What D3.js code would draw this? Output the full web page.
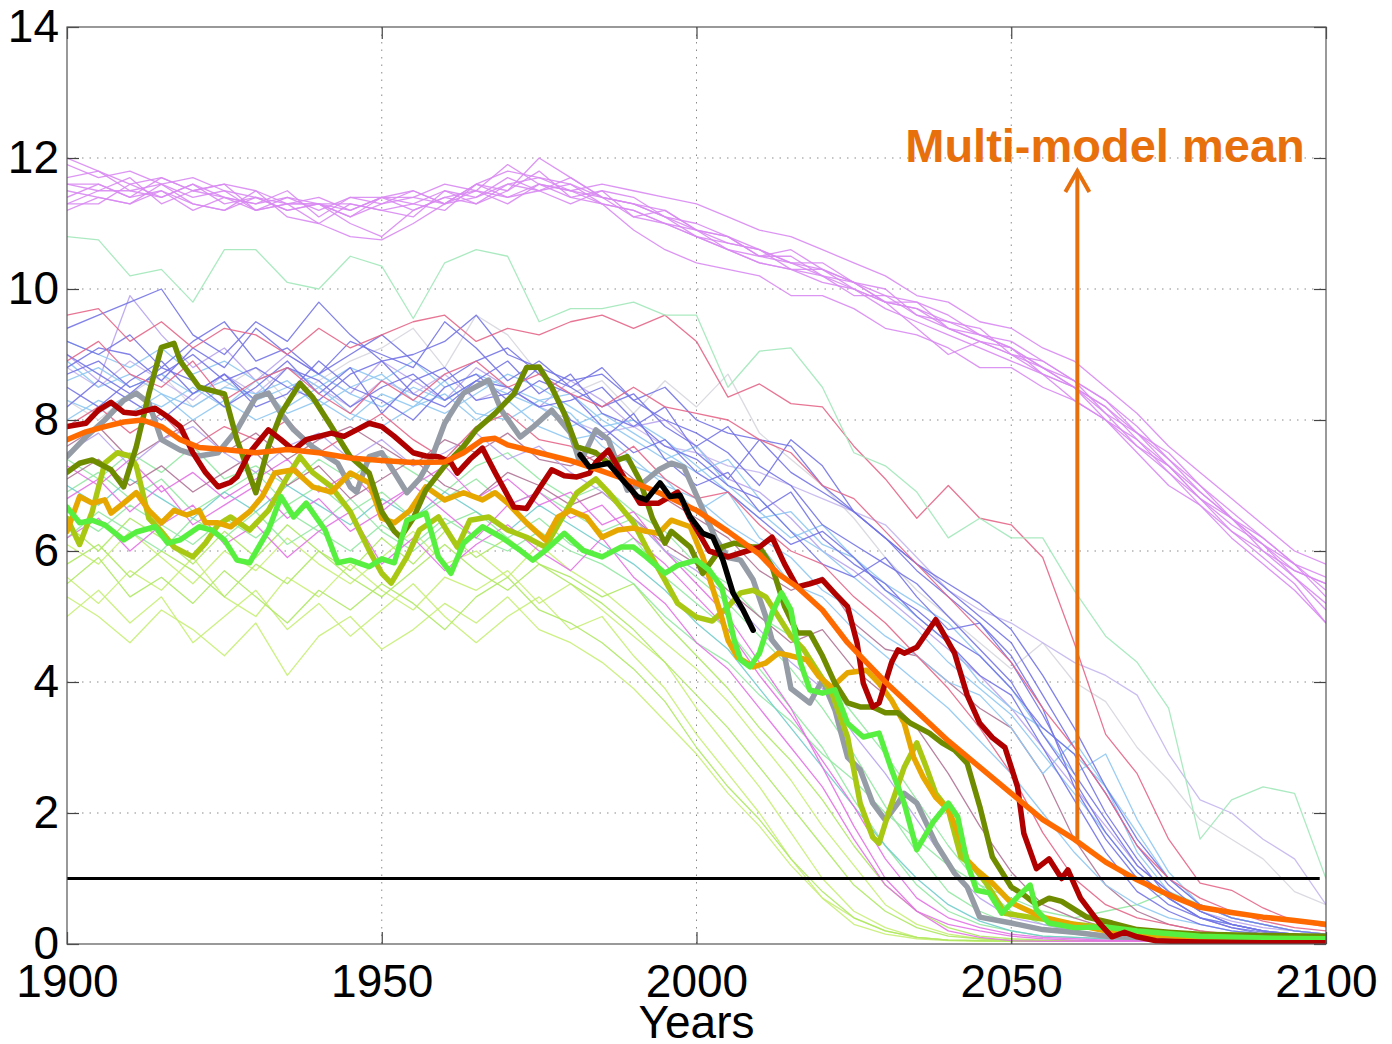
<!DOCTYPE html>
<html><head><meta charset="utf-8">
<script src="https://cdn.jsdelivr.net/npm/d3@7"></script>
<style>body{margin:0;background:#fff;} svg{display:block;}</style>
</head><body>
<script>
// ---------- DATA ----------
const xTicks = [1900, 1950, 2000, 2050, 2100];
const yTicks = [0, 2, 4, 6, 8, 10, 12, 14];
const xLabel = "Years";
const annotationText = "Multi-model mean";

const thinYears = [1900,1905,1910,1915,1920,1925,1930,1935,1940,1945,1950,1955,1960,1965,1970,1975,1980,1985,1990,1995,2000,2005,2010,2015,2020,2025,2030,2035,2040,2045,2050,2055,2060,2065,2070,2075,2080,2085,2090,2095,2100];

// purple ensemble (high group)
const purple1 = [11.9,11.7,11.8,11.6,11.7,11.5,11.4,11.3,11.4,11.2,11.4,11.5,11.3,11.6,11.8,11.7,11.5,11.6,11.5,11.4,11.3,11.1,10.9,10.8,10.6,10.4,10.2,9.9,9.8,9.5,9.4,9.1,8.9,8.5,8.1,7.6,7.2,6.8,6.4,6.0,5.8];
const purple2 = [11.2,11.4,11.3,11.6,11.3,11.2,11.5,11.1,11.0,11.3,11.2,11.1,11.5,11.4,11.7,11.5,11.6,11.3,11.2,11.0,10.8,10.6,10.4,10.3,10.2,10.0,9.8,9.4,9.0,9.2,9.0,8.7,8.5,8.0,7.7,7.2,6.8,6.3,6.0,5.6,5.2];
const purple3 = [11.6,11.5,11.7,11.3,11.5,11.6,11.2,11.4,11.3,11.1,11.4,11.3,11.2,11.6,11.5,12.0,11.7,11.4,11.3,11.1,10.9,10.8,10.5,10.6,10.3,10.1,9.8,9.8,9.4,9.2,9.1,8.8,8.5,8.1,7.6,7.3,6.8,6.5,6.0,5.7,5.5];
const purple4 = [11.4,11.6,11.4,11.5,11.2,11.4,11.3,11.5,11.1,11.4,11.3,11.5,11.3,11.4,11.6,11.5,11.3,11.5,11.1,11.2,10.9,10.7,10.6,10.4,10.4,10.1,10.0,9.6,9.5,9.4,9.0,8.9,8.6,8.3,7.8,7.5,7.0,6.6,6.2,5.8,5.3];
const purple5 = [11.3,11.3,11.6,11.4,11.6,11.3,11.4,11.2,11.3,11.0,10.8,11.2,11.4,11.3,11.5,11.8,11.4,11.3,10.9,10.6,10.4,10.3,10.2,9.9,9.9,9.7,9.4,9.3,9.1,8.8,8.8,8.5,8.3,8.0,7.5,7.0,6.7,6.2,5.8,5.4,4.9];
const purple6 = [11.7,11.8,11.5,11.6,11.4,11.5,11.2,11.3,11.0,10.8,10.75,11.0,11.3,11.5,11.4,11.6,11.5,11.4,11.3,11.2,10.9,10.8,10.6,10.4,10.3,10.1,9.9,9.8,9.6,9.3,9.2,8.9,8.6,8.3,7.9,7.4,7.0,6.5,6.1,5.7,5.5];
const purple7 = [11.5,11.4,11.3,11.5,11.3,11.2,11.4,11.2,11.3,11.3,11.2,11.3,11.5,11.3,11.6,11.7,11.6,11.4,11.1,11.0,10.9,10.6,10.5,10.4,10.2,9.9,9.9,9.6,9.4,9.2,9.0,8.8,8.6,8.1,7.8,7.3,6.8,6.4,6.1,5.8,5.4];
const purple8 = [12.0,11.8,11.6,11.7,11.5,11.4,11.3,11.4,11.2,11.4,11.4,11.2,11.4,11.5,11.3,11.6,11.4,11.5,11.4,11.1,11.0,10.8,10.5,10.5,10.2,10.1,9.8,9.7,9.5,9.3,9.1,8.7,8.5,8.2,7.8,7.4,6.9,6.5,6.1,5.6,5.1];
const purple9 = [11.3,11.5,11.5,11.4,11.6,11.4,11.2,11.3,11.3,11.2,11.4,11.4,11.3,11.6,11.4,11.5,11.7,11.4,11.3,11.1,10.8,10.7,10.6,10.3,10.3,10.0,9.8,9.7,9.4,9.3,9.1,8.8,8.5,8.2,7.7,7.3,6.9,6.5,6.2,5.8,5.6];
const purple10 = [11.6,11.6,11.4,11.7,11.5,11.6,11.5,11.3,11.3,11.1,11.3,11.4,11.6,11.5,11.9,11.6,11.5,11.3,11.2,11.0,10.8,10.6,10.4,10.3,10.1,10.0,9.7,9.5,9.3,9.1,8.9,8.7,8.3,8.0,7.6,7.2,6.7,6.3,5.9,5.5,4.9];

const mintHigh = [10.8,10.75,10.2,10.3,9.8,10.6,10.6,10.1,10.0,10.5,10.35,9.55,10.4,10.6,10.5,9.5,9.7,9.7,9.8,9.6,9.6,8.5,9.05,9.1,8.5,7.5,7.3,6.9,6.2,6.5,6.2,6.2,5.4,4.7,4.3,3.6,1.6,2.2,2.4,2.3,1.0];

const blue1 = [9.4,9.6,9.8,10.0,9.3,9.0,9.5,9.2,9.8,9.3,8.9,9.0,9.2,9.6,9.0,8.8,8.6,8.7,8.3,8.5,8.0,7.8,7.7,7.2,6.9,6.6,6.2,5.8,5.4,5.0,4.6,3.8,3.0,2.3,1.5,0.9,0.5,0.3,0.2,0.15,0.1];
const blue2 = [8.8,9.1,9.0,8.6,9.1,8.8,9.4,9.0,8.7,9.2,9.0,8.8,9.5,9.1,8.6,8.9,8.5,8.2,8.4,7.9,7.6,7.9,7.3,7.0,6.4,6.1,5.8,5.5,5.0,4.5,4.0,3.2,2.5,1.7,1.1,0.7,0.4,0.25,0.15,0.1,0.08];
const blue3 = [8.5,8.2,8.6,8.9,8.4,8.7,8.3,8.8,8.6,8.2,8.5,8.7,8.3,8.6,8.9,8.4,8.7,8.1,7.9,8.2,7.5,7.1,7.7,7.6,7.0,6.6,6.2,5.7,5.3,4.9,4.4,3.6,2.4,1.6,1.0,0.6,0.4,0.25,0.18,0.12,0.1];
const blue4 = [9.0,8.7,8.4,8.8,8.6,8.2,8.5,8.9,8.4,8.8,8.1,8.6,8.8,8.3,8.4,8.8,8.0,7.7,8.1,7.4,7.0,7.2,6.6,6.9,6.2,5.8,5.5,5.0,4.6,4.1,3.8,3.0,2.2,1.4,0.8,0.5,0.3,0.2,0.15,0.1,0.08];
const blue5 = [8.2,8.6,8.3,8.0,8.4,8.7,8.2,8.4,8.9,8.5,8.3,8.0,8.5,8.7,8.3,8.6,8.4,7.9,7.5,7.7,7.2,6.9,6.5,6.1,6.3,5.9,5.4,5.1,4.7,4.4,3.9,3.3,2.9,2.0,1.3,0.7,0.4,0.3,0.2,0.12,0.1];
const blue6 = [8.7,8.9,8.5,8.7,9.0,8.6,8.8,8.5,8.3,8.7,8.9,8.4,8.2,8.6,8.5,8.2,8.3,8.5,8.0,7.6,7.4,7.0,6.8,6.3,5.8,5.6,5.9,5.3,4.8,4.9,4.3,3.5,2.6,1.9,1.2,0.8,0.5,0.3,0.2,0.15,0.1];
const blue7 = [9.2,9.0,9.3,8.8,9.2,9.5,8.9,9.1,8.7,9.0,9.3,8.9,8.6,8.9,9.1,8.7,8.5,8.8,8.3,8.0,7.8,7.5,7.0,7.7,7.3,6.6,6.2,5.8,5.5,5.2,4.8,4.1,3.3,2.4,1.6,1.0,0.6,0.4,0.3,0.2,0.15];

const lightBlue1 = [8.6,8.8,8.5,8.7,8.4,8.6,8.3,8.5,8.7,8.4,8.2,8.5,8.3,8.6,8.4,8.2,7.9,8.1,7.8,7.5,7.2,7.4,6.8,6.3,6.0,5.6,5.2,4.8,4.3,3.9,3.5,2.9,2.3,1.7,1.1,0.7,0.4,0.3,0.2,0.15,0.1];
const lightBlue2 = [8.3,8.1,8.4,8.2,8.5,8.2,8.6,8.1,8.3,8.0,8.4,8.2,8.6,8.1,8.0,8.3,8.1,7.6,7.3,7.1,6.6,6.9,6.2,5.9,5.4,5.1,4.7,4.4,4.0,3.8,3.3,2.6,3.1,2.4,1.4,0.8,0.5,0.3,0.2,0.15,0.1];
const lightBlue3 = [8.9,8.5,8.7,8.4,8.2,8.5,8.4,8.6,8.2,8.5,8.7,8.3,8.1,8.4,8.7,8.5,8.2,7.9,8.0,7.7,7.3,6.9,6.5,6.6,6.1,5.9,5.5,5.2,4.9,4.4,3.9,3.2,2.6,2.9,1.9,1.1,0.6,0.4,0.3,0.2,0.15];
const lightBlue4 = [8.0,8.3,8.1,8.4,8.0,8.3,8.0,8.2,8.5,8.1,7.9,8.2,8.4,8.0,8.3,7.9,7.7,7.8,7.4,7.0,6.8,6.4,6.1,5.5,5.3,4.8,4.4,4.0,3.6,3.1,2.6,2.0,1.4,0.9,0.6,0.4,0.3,0.2,0.15,0.1,0.08];
const lightBlue5 = [9.2,9.0,8.8,9.1,8.7,8.9,8.6,8.8,8.5,8.8,8.6,8.9,8.5,8.7,8.5,8.3,8.4,8.0,7.7,7.4,7.6,7.0,6.6,6.2,6.4,5.9,5.4,5.0,4.6,4.0,3.6,3.3,2.9,2.4,1.7,1.0,0.6,0.4,0.3,0.2,0.15];

const lavender1 = [9.0,8.6,9.9,9.3,8.8,9.1,8.6,9.0,8.7,8.4,8.9,8.6,8.3,8.8,8.5,8.2,8.6,8.3,7.9,8.0,7.6,7.1,6.9,6.5,6.0,5.7,5.3,4.9,4.5,4.1,3.6,3.0,2.4,1.8,1.2,0.8,0.5,0.35,0.25,0.2,0.15];
const lavender2 = [7.5,7.8,7.3,7.7,7.9,7.5,7.2,7.6,7.8,7.4,7.7,7.3,7.5,7.8,7.4,7.6,7.2,6.9,6.5,6.0,5.7,5.3,4.8,4.3,3.9,3.2,2.6,1.9,1.2,0.7,0.4,0.3,0.2,0.15,0.1,0.08,0.06,0.05,0.05,0.05,0.05];
const lavender3 = [8.8,8.5,8.9,8.6,8.3,8.7,8.4,8.8,8.5,8.2,8.6,8.4,8.7,8.3,8.5,8.2,8.0,7.8,7.9,7.6,7.5,7.3,7.2,7.0,6.8,6.6,6.4,5.9,5.4,5.1,4.9,4.6,4.3,4.1,3.8,2.9,2.2,2.0,1.6,1.3,0.6];
const paleGray1 = [8.3,8.0,8.4,8.7,8.2,8.5,8.8,8.3,8.6,8.9,9.1,9.4,8.8,9.6,9.3,8.7,8.4,8.6,8.1,8.6,8.2,8.7,7.8,7.4,7.0,6.5,5.9,5.4,5.0,4.6,4.2,4.6,4.0,3.7,3.0,2.5,1.9,1.6,1.3,0.8,0.6];

const pink1 = [9.6,9.7,9.2,9.5,9.1,9.4,9.3,9.0,9.4,9.1,9.3,9.5,9.6,9.2,9.4,9.3,9.5,9.6,9.4,9.6,9.2,8.35,8.55,8.25,8.2,7.6,7.1,6.5,7.0,6.5,6.4,5.9,4.6,3.2,2.6,1.6,0.93,0.82,0.55,0.35,0.26];
const pink2 = [8.9,9.2,8.7,8.5,8.9,8.3,8.6,8.8,8.4,8.1,8.6,8.3,8.7,8.9,8.5,8.7,8.4,8.2,8.5,8.2,8.1,8.0,7.7,7.5,7.0,6.8,6.3,5.8,5.3,4.8,4.3,3.6,3.0,2.3,1.5,1.0,0.7,0.5,0.35,0.25,0.2];
const pink3 = [7.9,8.2,7.8,8.1,7.6,7.9,7.7,8.0,7.5,7.8,8.1,7.7,7.4,7.9,8.1,7.7,7.6,7.3,7.6,7.1,6.8,6.9,6.4,6.0,5.8,5.3,4.9,4.4,3.9,3.3,2.6,1.7,1.0,0.6,0.4,0.3,0.2,0.15,0.1,0.08,0.06];

const mauve1 = [7.6,7.9,7.4,7.7,8.0,7.5,7.8,7.4,7.7,7.9,7.6,7.3,7.7,7.5,7.8,7.4,7.3,7.5,7.1,6.8,6.5,6.2,5.7,5.4,5.6,4.9,4.5,4.4,4.0,3.6,3.3,2.6,1.6,0.9,0.5,0.3,0.2,0.12,0.08,0.06,0.05];
const mauve2 = [7.1,7.4,7.0,7.3,6.9,7.2,7.5,7.0,7.3,6.8,7.1,7.4,7.0,6.8,7.2,7.0,6.7,6.9,6.5,6.1,5.8,5.4,5.0,4.6,4.8,4.2,3.8,3.3,2.6,1.8,1.1,0.6,0.4,0.25,0.15,0.1,0.08,0.06,0.05,0.05,0.05];

const magenta1 = [6.8,7.1,6.6,7.0,6.4,6.7,7.0,6.5,6.8,6.3,6.6,7.0,6.6,6.2,6.7,6.9,6.5,6.7,6.2,5.8,5.3,4.8,4.1,3.5,2.8,2.1,1.3,0.7,0.4,0.25,0.15,0.1,0.08,0.06,0.05,0.05,0.04,0.04,0.04,0.04,0.04];
const magenta2 = [6.2,6.5,6.0,6.4,6.7,6.1,6.4,5.9,6.3,6.6,5.8,6.2,5.7,6.1,6.4,6.0,5.7,6.2,5.6,5.2,4.6,4.2,3.6,3.0,2.4,1.6,0.9,0.5,0.3,0.2,0.12,0.08,0.06,0.05,0.05,0.04,0.04,0.04,0.04,0.04,0.04];
const magenta3 = [7.3,7.0,7.4,6.9,7.2,6.8,7.1,7.4,6.9,7.2,6.7,7.0,7.3,6.8,7.1,6.7,6.9,6.4,6.6,6.0,5.5,5.0,4.3,3.6,2.7,1.8,1.0,0.5,0.2,0.1,0.05,0.04,0.04,0.04,0.04,0.04,0.04,0.04,0.04,0.04,0.04];

const green2 = [6.9,7.2,6.8,7.1,6.6,6.9,7.2,6.7,7.0,6.6,6.9,6.5,6.8,7.1,6.7,6.9,6.6,6.3,6.5,6.0,5.6,5.2,4.7,4.2,3.6,2.9,2.1,1.4,0.8,0.5,0.3,0.2,0.15,0.1,0.08,0.06,0.05,0.05,0.05,0.05,0.05];
const green3 = [6.2,6.6,6.3,6.0,6.5,6.2,6.6,6.1,6.4,6.8,6.3,6.0,6.4,6.6,6.2,6.5,6.1,5.9,6.2,5.6,5.2,4.8,4.2,3.6,3.0,2.2,1.5,0.9,0.5,0.3,0.2,0.12,0.1,0.08,0.06,0.05,0.05,0.05,0.05,0.05,0.05];
const green4 = [7.4,7.1,7.5,7.2,7.6,7.1,7.3,7.0,7.4,7.1,7.5,7.2,6.9,7.3,7.5,7.1,6.8,7.0,6.6,6.3,5.8,5.5,5.0,4.7,4.1,3.5,2.9,2.2,1.5,0.9,0.5,0.3,0.2,0.15,0.1,0.08,0.06,0.05,0.05,0.05,0.05];
const green5 = [6.6,6.3,6.7,6.4,6.1,6.5,6.2,6.6,6.3,6.0,6.4,6.1,6.5,6.2,6.0,6.3,6.0,5.8,5.5,5.0,4.6,4.3,3.8,3.4,2.9,2.5,2.0,1.6,1.2,0.9,0.7,0.5,0.4,0.5,0.6,0.8,0.6,0.4,0.3,0.2,0.15];

const yellowGreen1 = [5.0,5.4,4.9,5.3,4.6,5.0,5.4,4.8,5.2,4.7,5.1,5.5,5.0,4.6,5.0,5.3,4.8,5.0,4.4,3.9,3.2,2.6,2.0,1.3,0.7,0.3,0.15,0.08,0.05,0.04,0.04,0.04,0.04,0.04,0.04,0.04,0.04,0.04,0.04,0.04,0.04];
const yellowGreen2 = [5.6,5.2,5.7,5.4,5.9,5.3,5.0,5.6,5.3,5.8,5.4,5.1,5.6,5.4,5.7,5.2,5.5,5.1,4.7,4.3,3.6,3.0,2.4,1.7,1.0,0.5,0.25,0.1,0.06,0.05,0.04,0.04,0.04,0.04,0.04,0.04,0.04,0.04,0.04,0.04,0.04];
const yellowGreen3 = [6.1,5.8,6.3,5.9,5.5,6.0,5.7,6.2,5.8,5.5,5.9,6.3,5.8,6.0,5.6,6.1,5.7,5.4,5.0,4.6,4.2,3.7,3.1,2.5,1.8,1.2,0.6,0.3,0.15,0.08,0.05,0.05,0.04,0.04,0.04,0.04,0.04,0.04,0.04,0.04,0.04];
const yellowGreen4 = [5.3,5.0,4.6,5.1,4.8,4.4,4.9,4.1,4.7,5.0,4.5,4.8,5.2,4.9,5.3,4.8,4.6,4.3,3.9,3.4,2.9,2.3,1.8,1.2,0.7,0.4,0.2,0.1,0.06,0.05,0.04,0.04,0.04,0.04,0.04,0.04,0.04,0.04,0.04,0.04,0.04];
const lime1 = [5.8,6.1,5.6,6.0,5.7,5.3,5.8,5.5,6.0,5.6,5.3,5.7,6.1,5.7,5.4,5.8,5.5,5.2,4.8,4.3,3.8,3.3,2.7,2.1,1.5,0.9,0.5,0.25,0.12,0.08,0.06,0.05,0.05,0.05,0.05,0.05,0.05,0.05,0.05,0.05,0.05];
const lime2 = [6.4,6.0,6.5,6.2,5.8,6.3,5.9,6.4,6.0,5.7,6.2,5.8,6.3,5.9,6.2,5.8,5.6,5.3,5.5,4.9,4.4,3.9,3.3,2.8,2.2,1.5,0.9,0.5,0.25,0.12,0.08,0.06,0.05,0.05,0.05,0.05,0.05,0.05,0.05,0.05,0.05];
const lime3 = [5.5,5.9,5.3,5.6,5.2,5.7,5.3,4.9,5.4,5.1,5.5,5.2,4.8,5.3,5.6,5.1,4.9,4.6,4.2,3.7,3.0,2.4,1.9,1.3,0.8,0.4,0.2,0.1,0.06,0.05,0.04,0.04,0.04,0.04,0.04,0.04,0.04,0.04,0.04,0.04,0.04];
const teal1 = [7.0,6.7,7.1,6.8,6.5,6.9,6.6,7.0,6.7,6.4,6.8,6.5,6.9,6.6,6.3,6.7,6.4,6.1,5.8,5.4,4.9,4.5,3.9,3.3,2.7,2.1,1.5,1.0,0.6,0.35,0.2,0.12,0.1,0.08,0.06,0.05,0.05,0.05,0.05,0.05,0.05];

// highlighted models: [year, value]
const modelGray = [[1900,7.44],[1903,7.74],[1906,8.0],[1909,8.3],[1911,8.41],[1913,8.26],[1915,7.7],[1918,7.54],[1921,7.45],[1924,7.5],[1927,7.85],[1930,8.35],[1932,8.41],[1934,8.1],[1936,7.85],[1939,7.59],[1943,7.34],[1945,6.98],[1946,6.9],[1948,7.44],[1950,7.5],[1952,7.2],[1954,6.89],[1956,7.1],[1958,7.44],[1960,7.95],[1963,8.41],[1967,8.61],[1969,8.15],[1972,7.74],[1974,7.89],[1977,8.15],[1980,7.8],[1981.5,7.34],[1984,7.85],[1986,7.7],[1989,6.93],[1991,7.0],[1994,7.24],[1996,7.34],[1998,7.28],[2000,6.85],[2003,6.2],[2005,5.9],[2007,5.86],[2009,5.56],[2011,5.0],[2012,4.64],[2014,4.4],[2015,3.9],[2018,3.68],[2020,4.03],[2022,3.57],[2024,2.85],[2026,2.66],[2028,2.15],[2030,1.89],[2032,2.15],[2033,2.3],[2035,2.15],[2038,1.54],[2041,1.08],[2043,0.87],[2045,0.41],[2050,0.32],[2055,0.22],[2060,0.18],[2065,0.12],[2070,0.1],[2080,0.08],[2090,0.07],[2100,0.07]];
const modelYellowGreen = [[1900,6.5],[1902,6.1],[1904,6.6],[1906,7.34],[1908,7.5],[1910,7.45],[1911,7.3],[1913,6.5],[1915,6.3],[1917,6.06],[1920,5.91],[1922,6.12],[1924,6.4],[1926,6.52],[1929,6.32],[1932,6.62],[1935,7.13],[1937,7.44],[1939,7.2],[1942,6.98],[1945,6.6],[1948,6.01],[1950,5.66],[1951.5,5.51],[1954,5.91],[1956,6.32],[1959,6.52],[1962,6.06],[1964,6.47],[1967,6.52],[1970,6.32],[1973,6.21],[1976,6.06],[1978,6.4],[1981,6.89],[1984,7.1],[1986,6.9],[1990,6.43],[1992,6.06],[1995,5.55],[1997,5.2],[2000,4.99],[2002.5,4.93],[2005,5.15],[2007,5.36],[2009,5.4],[2011,5.3],[2013,5.0],[2015,4.7],[2017,4.5],[2019,4.2],[2021.5,3.83],[2024,3.16],[2026,2.15],[2028,1.63],[2029,1.54],[2030.5,2.0],[2033,2.7],[2035,3.07],[2036.5,2.7],[2038,2.3],[2040,2.05],[2042,1.33],[2044,1.18],[2046,0.93],[2049,0.47],[2055,0.38],[2060,0.3],[2070,0.2],[2080,0.12],[2100,0.1]];
const modelGold = [[1900,6.3],[1902,6.83],[1904,6.73],[1906,6.78],[1907,6.58],[1909,6.73],[1911,6.89],[1913,6.62],[1915,6.43],[1917,6.62],[1919,6.55],[1921,6.62],[1922,6.43],[1924,6.43],[1926,6.37],[1929,6.6],[1931,6.83],[1933,7.19],[1936,7.24],[1939,6.98],[1942,6.9],[1945,7.19],[1948,7.04],[1950,6.5],[1952,6.43],[1954.5,6.62],[1957,6.98],[1960,6.78],[1963,6.89],[1966,6.78],[1968,6.89],[1970,6.73],[1973,6.43],[1976,6.17],[1978,6.52],[1980,6.62],[1982.5,6.52],[1985,6.21],[1987.5,6.32],[1990,6.35],[1992,6.3],[1994,6.27],[1996,6.47],[1999,6.37],[2001,5.91],[2003,5.3],[2004,4.99],[2005,4.64],[2006.5,4.38],[2009,4.23],[2011,4.29],[2013,4.44],[2015,4.4],[2017.5,4.34],[2019.5,4.08],[2021.5,3.92],[2024,4.14],[2027,4.18],[2029,3.98],[2031,3.72],[2033,3.37],[2034.5,2.85],[2036,2.55],[2038,2.24],[2040,2.05],[2042,1.6],[2043,1.28],[2044.5,1.13],[2047,0.93],[2050,0.63],[2055,0.41],[2060,0.3],[2065,0.2],[2070,0.15],[2080,0.1],[2100,0.08]];
const modelOlive = [[1900,7.2],[1902,7.34],[1904,7.39],[1907,7.24],[1909,6.98],[1911,7.59],[1913,8.4],[1915,9.11],[1917,9.17],[1918,8.9],[1921,8.5],[1925,8.4],[1927,7.7],[1930,6.89],[1932,7.6],[1934,8.1],[1937,8.56],[1939,8.35],[1942,7.9],[1945,7.44],[1948,7.19],[1950,6.6],[1952,6.3],[1953,6.21],[1955,6.5],[1957,6.93],[1960,7.3],[1963,7.6],[1965,7.85],[1968,8.1],[1971,8.4],[1973,8.8],[1975,8.81],[1977,8.5],[1979,8.1],[1981,7.59],[1984,7.5],[1986,7.34],[1989,7.44],[1991,7.08],[1993,6.5],[1995,6.12],[1996,6.3],[1999,6.06],[2001,5.66],[2004,6.06],[2006,6.12],[2009,6.06],[2010,6.06],[2012,5.76],[2014,5.15],[2016,4.75],[2018,4.75],[2020,4.4],[2022,3.98],[2024,3.68],[2026,3.62],[2028,3.62],[2030,3.53],[2032,3.53],[2034,3.37],[2037,3.22],[2039,3.07],[2041,2.96],[2043,2.76],[2045,2.1],[2047,1.33],[2050,0.87],[2052,0.75],[2054,0.6],[2056,0.7],[2058,0.65],[2062,0.41],[2066,0.32],[2070,0.22],[2075,0.18],[2080,0.15],[2090,0.13],[2100,0.12]];
const modelGreen = [[1900,6.67],[1902,6.43],[1904,6.47],[1906,6.4],[1909,6.17],[1911,6.29],[1914,6.37],[1916,6.12],[1918,6.17],[1921,6.37],[1923,6.32],[1925,6.17],[1927,5.86],[1929,5.82],[1932,6.32],[1934,6.83],[1936,6.52],[1938,6.73],[1941,6.32],[1943,5.82],[1945,5.86],[1948,5.76],[1950,5.88],[1952,5.82],[1954,6.47],[1957,6.58],[1959,5.91],[1961,5.66],[1963,6.12],[1966,6.37],[1969,6.21],[1972,6.01],[1974,5.86],[1976,6.01],[1979,6.27],[1982,6.01],[1985,5.91],[1988,6.06],[1990,6.06],[1992,5.91],[1995,5.66],[1997,5.78],[2000,5.86],[2002,5.71],[2004,5.45],[2005,5.05],[2006,4.64],[2007,4.34],[2008.5,4.23],[2010,4.44],[2012,5.05],[2013.5,5.36],[2015,5.1],[2016.5,4.3],[2018,3.88],[2020,3.83],[2022,3.88],[2024,3.37],[2026.5,3.16],[2029,3.22],[2031,2.66],[2033,2.15],[2035,1.44],[2037.5,1.85],[2040,2.15],[2041.5,1.94],[2043,1.24],[2044.5,0.82],[2046.5,0.78],[2048.5,0.47],[2051,0.72],[2053,0.9],[2054,0.52],[2056,0.32],[2060,0.25],[2065,0.26],[2070,0.2],[2080,0.12],[2090,0.09],[2100,0.08]];
const modelRed = [[1900,7.9],[1903,7.95],[1905,8.15],[1907,8.27],[1909,8.12],[1911,8.1],[1914,8.18],[1916,8.05],[1918,7.9],[1920,7.5],[1922,7.2],[1924,6.98],[1926,7.05],[1927,7.13],[1929,7.5],[1932,7.85],[1934,7.7],[1936,7.54],[1938,7.7],[1940,7.75],[1942,7.8],[1944,7.75],[1946,7.85],[1948,7.95],[1950,7.9],[1952,7.75],[1955,7.5],[1957,7.45],[1959,7.44],[1961,7.35],[1962,7.19],[1964,7.4],[1966,7.57],[1968,7.2],[1971,6.67],[1973,6.65],[1975,6.95],[1977,7.24],[1979,7.15],[1981,7.13],[1983,7.19],[1984,7.35],[1986,7.54],[1988,7.2],[1991,6.73],[1994,6.73],[1997,6.9],[1999,6.5],[2002,6.0],[2005,5.91],[2008,6.0],[2010,6.06],[2012,6.21],[2014,5.8],[2016,5.45],[2018,5.5],[2020,5.56],[2022,5.35],[2024,5.15],[2025.5,4.6],[2026.5,3.98],[2028,3.62],[2029,3.68],[2031,4.3],[2032,4.49],[2033,4.44],[2035,4.53],[2038,4.95],[2041,4.44],[2043,3.8],[2045,3.37],[2047,3.15],[2049,3.0],[2051,2.4],[2052,1.69],[2054,1.15],[2056,1.3],[2058,1.0],[2059,1.13],[2061,0.7],[2064,0.32],[2066,0.11],[2068,0.18],[2070,0.11],[2073,0.05],[2076,0.04],[2080,0.03],[2090,0.02],[2100,0.02]];
const multiModelMean = [[1900,7.7],[1903,7.82],[1906,7.9],[1909,7.97],[1912,8.0],[1915,7.9],[1918,7.7],[1921,7.58],[1925,7.55],[1930,7.5],[1935,7.55],[1940,7.5],[1945,7.42],[1950,7.38],[1955,7.35],[1960,7.36],[1963,7.5],[1966,7.7],[1968,7.72],[1970,7.62],[1975,7.5],[1980,7.38],[1985,7.22],[1990,7.05],[1995,6.85],[2000,6.62],[2005,6.3],[2010,5.95],[2013,5.65],[2016,5.45],[2020,5.1],[2024,4.6],[2027,4.3],[2030,4.0],[2035,3.55],[2040,3.1],[2045,2.7],[2050,2.3],[2055,1.9],[2060,1.6],[2065,1.25],[2070,0.98],[2075,0.75],[2080,0.56],[2085,0.48],[2090,0.41],[2095,0.36],[2100,0.3]];
const observations = [[1981.5,7.47],[1983,7.28],[1986,7.34],[1988.3,7.08],[1990.6,6.83],[1992,6.78],[1994.2,7.04],[1995.8,6.83],[1997.4,6.85],[1999,6.52],[2001,6.27],[2002.6,6.21],[2004.2,5.86],[2005.8,5.36],[2007.4,5.1],[2009,4.79]];

const thresholdValue = 1;
const arrowYear = 2060.5, arrowFrom = 1.6, arrowTo = 11.8;

// ---------- DRAW ----------
const W = 1392, H = 1044;
const L = 67, R = 1326, T = 27, B = 944;
const FONT = "'Liberation Sans', Arial, Helvetica, sans-serif";

const svg = d3.select("body").append("svg").attr("width", W).attr("height", H)
  .style("font-family", FONT);

const x = d3.scaleLinear().domain([1900, 2100]).range([L, R]);
const y = d3.scaleLinear().domain([0, 14]).range([B, T]);

// grid
const grid = svg.append("g").attr("stroke", "#8a8a8a").attr("stroke-width", 1)
  .attr("stroke-dasharray", "1.5,6");
grid.selectAll("line.gx").data(xTicks.slice(1, -1)).join("line")
  .attr("x1", d => x(d)).attr("x2", d => x(d)).attr("y1", T).attr("y2", B);
grid.selectAll("line.gy").data(yTicks.slice(1, -1)).join("line")
  .attr("x1", L).attr("x2", R).attr("y1", d => y(d)).attr("y2", d => y(d));

svg.append("clipPath").attr("id", "clip").append("rect")
  .attr("x", L).attr("y", T).attr("width", R - L).attr("height", B - T);
const plot = svg.append("g").attr("clip-path", "url(#clip)");

const lineYears = d3.line().x((d, i) => x(thinYears[i])).y(d => y(d));
const thinSeries = [
  [purple1, "#d88af2"], [purple2, "#d88af2"], [purple3, "#d88af2"], [purple4, "#d88af2"], [purple5, "#d88af2"],
  [purple6, "#d88af2"], [purple7, "#d88af2"], [purple8, "#d88af2"], [purple9, "#d88af2"], [purple10, "#d88af2"],
  [yellowGreen1, "#c8ee76"], [yellowGreen2, "#c8ee76"], [yellowGreen3, "#c8ee76"], [yellowGreen4, "#c8ee76"],
  [lime1, "#aee862"], [lime2, "#aee862"], [lime3, "#aee862"],
  [green2, "#92e8a2"], [green3, "#92e8a2"], [green4, "#92e8a2"], [green5, "#92e8a2"],
  [teal1, "#72cccc"], [magenta1, "#e272e4"], [magenta2, "#e272e4"], [magenta3, "#e272e4"],
  [mauve1, "#b07496"], [mauve2, "#b07496"],
  [paleGray1, "#d6d6de"], [lavender1, "#b8a4ee"], [lavender2, "#b8a4ee"], [lavender3, "#c4b6ee"],
  [lightBlue1, "#90c8f2"], [lightBlue2, "#90c8f2"], [lightBlue3, "#90c8f2"], [lightBlue4, "#90c8f2"], [lightBlue5, "#90c8f2"],
  [blue1, "#7474e6"], [blue2, "#7474e6"], [blue3, "#7474e6"], [blue4, "#7474e6"], [blue5, "#7474e6"], [blue6, "#7474e6"], [blue7, "#7474e6"],
  [pink1, "#e46688"], [pink2, "#e46688"], [pink3, "#e46688"],
  [mintHigh, "#a2e8ba"]
];
plot.selectAll("path.thin").data(thinSeries).join("path")
  .attr("class", "thin")
  .attr("d", d => lineYears(d[0]))
  .attr("fill", "none").attr("stroke", d => d[1])
  .attr("stroke-width", 1.3).attr("stroke-opacity", 0.9)
  .attr("stroke-linejoin", "round");

const linePairs = d3.line().x(d => x(d[0])).y(d => y(d[1]));
const thickSeries = [
  [modelGray, "#959ca6"], [modelYellowGreen, "#a9c813"], [modelGold, "#e6a800"],
  [modelOlive, "#6f8c00"], [modelGreen, "#58f040"], [modelRed, "#b00000"],
  [multiModelMean, "#ff6a00"], [observations, "#000000"]
];
plot.selectAll("path.thick").data(thickSeries).join("path")
  .attr("class", "thick")
  .attr("d", d => linePairs(d[0]))
  .attr("fill", "none").attr("stroke", d => d[1])
  .attr("stroke-width", 5.5).attr("stroke-linejoin", "round").attr("stroke-linecap", "round");

// threshold line
svg.append("line").attr("x1", x(1900)).attr("x2", x(2099))
  .attr("y1", y(thresholdValue)).attr("y2", y(thresholdValue))
  .attr("stroke", "#000").attr("stroke-width", 3);

// axes (ticks inside)
const fontSize = 46;
const axL = svg.append("g").attr("transform", `translate(${L},0)`)
  .call(d3.axisLeft(y).tickValues(yTicks).tickSize(-12).tickPadding(8).tickFormat(d3.format("d")));
const axB = svg.append("g").attr("transform", `translate(0,${B})`)
  .call(d3.axisBottom(x).tickValues(xTicks).tickSize(-12).tickPadding(20).tickFormat(d3.format("d")));
const axR = svg.append("g").attr("transform", `translate(${R},0)`)
  .call(d3.axisRight(y).tickValues(yTicks).tickSize(-12).tickFormat(""));
const axT = svg.append("g").attr("transform", `translate(0,${T})`)
  .call(d3.axisTop(x).tickValues(xTicks).tickSize(-12).tickFormat(""));
[axL, axB, axR, axT].forEach(a => {
  a.select(".domain").remove();
  a.selectAll(".tick line").attr("stroke", "#444").attr("stroke-width", 1.2);
  a.selectAll("text").attr("fill", "#000").style("font-size", fontSize + "px").style("font-family", FONT);
});
svg.append("rect").attr("x", L).attr("y", T).attr("width", R - L).attr("height", B - T)
  .attr("fill", "none").attr("stroke", "#555").attr("stroke-width", 1.2);

svg.append("text").attr("x", x(2000)).attr("y", 1038).attr("text-anchor", "middle")
  .style("font-size", fontSize + "px").text(xLabel);

// annotation
const ac = "#e8700c";
const ax0 = x(arrowYear);
svg.append("line").attr("x1", ax0).attr("x2", ax0).attr("y1", y(arrowFrom)).attr("y2", y(arrowTo) + 2)
  .attr("stroke", ac).attr("stroke-width", 4);
svg.append("path")
  .attr("d", `M${ax0 - 12},${y(arrowTo) + 21} L${ax0},${y(arrowTo)} L${ax0 + 12},${y(arrowTo) + 21}`)
  .attr("fill", "none").attr("stroke", ac).attr("stroke-width", 4).attr("stroke-linejoin", "miter");
svg.append("text").attr("x", 1105).attr("y", 162).attr("text-anchor", "middle")
  .attr("fill", ac).style("font-size", "47px").style("font-weight", "bold").text(annotationText);
</script>
</body></html>
